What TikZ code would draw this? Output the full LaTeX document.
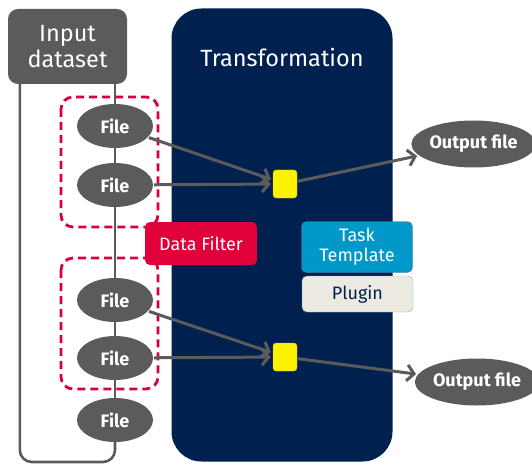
\documentclass[tikz,border=0pt]{standalone}
\usepackage{fontspec}
\setmainfont{Fira Sans}
\usetikzlibrary{arrows.meta, shapes.geometric}

\definecolor{filegray}{HTML}{5B5B5B}
\definecolor{navy}{HTML}{00214F}
\definecolor{dashred}{HTML}{D9003A}
\definecolor{filterred}{HTML}{E0003A}
\definecolor{taskblue}{HTML}{0098C8}
\definecolor{pluginbeige}{HTML}{ECEAE1}

\begin{document}
\begin{tikzpicture}
            [x=1pt, y=-1pt, >={Straight Barb[length=7pt,width=16pt]},
             file/.style={shape=ellipse, fill=filegray, text=white, minimum width=76pt, minimum height=44pt, inner sep=0pt, font=\bfseries\fontsize{18}{18}\selectfont},
             output/.style={file, minimum width=117pt, minimum height=47pt},
             tag/.style={shape=rectangle, rounded corners=5pt, minimum width=112pt, inner sep=0pt, align=center, font=\fontsize{18}{20}\selectfont},
             link/.style={draw=filegray, line width=2.6pt},
             flow/.style={draw=filegray, ->, line width=3pt, shorten >=2pt, shorten <=1pt},
             choice/.style={draw=dashred, line width=2.8pt, rounded corners=12pt, dash pattern=on 8pt off 5pt},
             spot/.style={shape=rectangle, rounded corners=3pt, fill=yellow, draw=yellow!70!black, minimum width=24pt, minimum height=28pt, inner sep=0pt}]
            \useasboundingbox (0,0) rectangle (532,465);

            \node[shape=rectangle, rounded corners=30pt, fill=navy, minimum width=221pt, minimum height=453pt] (trans) at (282,235) {};
            \node[text=white, font=\fontsize{23.5}{24}\selectfont] (transtitle) at (282,57) {Transformation};
            \node[shape=rectangle, rounded corners=10pt, fill=filegray, text=white, minimum width=119pt, minimum height=75pt, align=center, font=\fontsize{23.5}{26}\selectfont] (input) at (67.5,46.5) {Input\\dataset};

            \draw[choice] (61,97) rectangle (158,227);
            \draw[choice] (61,258) rectangle (158,389);

            \node[file] (f1) at (115,126) {File};
            \node[file] (f2) at (115,185) {File};
            \node[file] (f3) at (115,300) {File};
            \node[file] (f4) at (115,358) {File};
            \node[file] (f5) at (115,420) {File};
            \coordinate (corner) at (115,462);

            \draw[link] (input.south -| f1) -- (f1);
            \draw[link] (f1) -- (f2);
            \draw[link] (f2) -- (f3);
            \draw[link] (f3) -- (f4);
            \draw[link] (f4) -- (f5);
            \draw[link, rounded corners=12pt] ([xshift=12pt]input.south west) |- (corner) -- (f5);

            \node[spot] (s1) at (285,184) {};
            \node[spot] (s2) at (285,357) {};
            \node[output] (out1) at (473.5,144) {Output file};
            \node[output] (out2) at (477,382) {Output file};

            \path[flow] (f1) edge (s1);
            \path[flow] (f2) edge (s1);
            \path[flow] (s1) edge (out1);
            \path[flow] (f3) edge (s2);
            \path[flow] (f4) edge (s2);
            \path[flow] (s2) edge (out2);

            \node[tag, fill=filterred, text=white, minimum height=43pt] (filter) at (201,243.5) {Data Filter};
            \node[tag, fill=taskblue, text=white, draw=navy!60, minimum height=51pt, minimum width=111pt] (task) at (357,247) {Task\\Template};
            \node[tag, fill=pluginbeige, text=navy, draw=navy!40, minimum height=36pt, minimum width=111pt] (plugin) at (357.5,294) {Plugin};
\end{tikzpicture}
\end{document}
